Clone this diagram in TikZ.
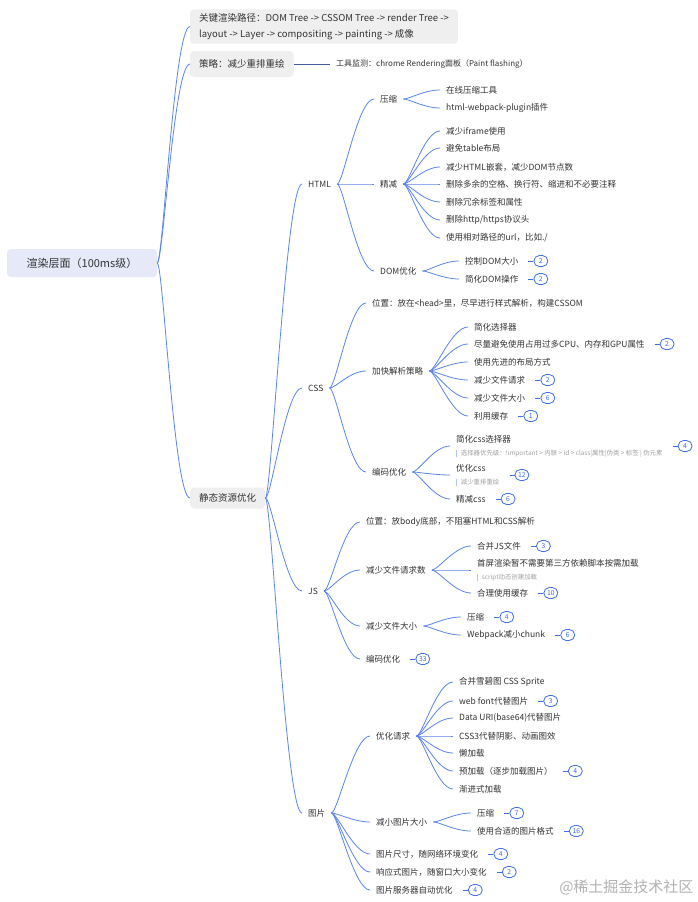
\documentclass[tikz,border=0pt]{standalone}
\usepackage{fontspec}
\setmainfont{Noto Sans CJK SC}
\usepackage{tikz}
\usetikzlibrary{positioning,calc}
\definecolor{linkblue}{HTML}{5B86E5}
\definecolor{badgeblue}{HTML}{3F6FE0}
\definecolor{txtgray}{HTML}{333333}
\definecolor{notegray}{HTML}{A0A0A0}
\definecolor{rootfill}{HTML}{E5E9F8}
\definecolor{boxfill}{HTML}{EFEFEF}
\newcommand\notefont{\fontsize{6.4}{8}\selectfont\color{notegray}}
\newcommand\notebar{\textcolor{linkblue!45}{\rule[-1.5pt]{0.7pt}{7pt}}\hspace{4pt}}
\tikzset{
  branch/.style  = {draw=linkblue, line width=0.8pt,
                    to path={.. controls ($(\tikztostart)+(6,0)$) and
                    ($(\tikztotarget)+(-16,0)$) .. (\tikztotarget)}},
  plainlink/.style = {draw=linkblue!70!black, line width=0.8pt},
  rootbox/.style = {fill=rootfill, rounded corners=4pt, minimum width=150pt,
                    minimum height=28pt, font=\fontsize{11}{13}\selectfont,
                    text=txtgray},
  topbox/.style  = {fill=boxfill, rounded corners=4pt, inner xsep=9pt,
                    inner ysep=4pt, font=\fontsize{9.5}{16}\selectfont,
                    text=txtgray, anchor=west, align=left},
  item/.style    = {font=\fontsize{8.5}{10}\selectfont, text=txtgray,
                    inner xsep=6pt, inner ysep=1pt, anchor=west},
  nitem/.style   = {item, align=left, font=\fontsize{8.5}{13}\selectfont},
  badge/.style   = {draw=badgeblue, line width=0.8pt, rounded corners=5.5pt,
                    text=badgeblue, font=\fontsize{6.8}{7}\selectfont,
                    minimum width=14pt, minimum height=11pt, inner sep=1pt},
  tick/.style    = {draw=badgeblue, line width=0.8pt, shorten <=4pt},
  wmark/.style   = {font=\fontsize{15}{16}\selectfont, text=black!30, anchor=east},
}
\begin{document}
\begin{tikzpicture}[x=1pt, y=-1pt]
  \path[use as bounding box, fill=white] (0,0) rectangle (698,902);
  % root and first level
  \node[rootbox] (root) at (82,263) {渲染层面（100ms级）};
  \node[topbox] (key) at (190,26.5) {关键渲染路径：DOM Tree -> CSSOM Tree -> render Tree ->\\layout -> Layer -> compositing -> painting -> 成像};
  \node[topbox, minimum height=26pt] (strat) at (190,64) {策略：减少重排重绘};
  \node[item, font=\fontsize{8}{10}\selectfont] (tool) at (330,64) {工具监测：chrome Rendering面板（Paint flashing）};
  \node[topbox, minimum height=21pt] (static) at (190,498) {静态资源优化};
  \draw[branch] (root.east) to (key.west);
  \draw[branch] (root.east) to (strat.west);
  \draw[branch] (root.east) to (static.west);
  \draw[plainlink] (strat.east) -- (tool.west);

  % HTML
  \node[item] (html) at (302,184) {HTML};
  \node[item] (hzip) at (374,99) {压缩};
  \node[item] (hcut) at (374,184) {精减};
  \node[item] (hdom) at (374,271) {DOM优化};
  \node[item] (hz1) at (440,90) {在线压缩工具};
  \node[item] (hz2) at (440,108) {html-webpack-plugin插件};
  \node[item] (hc1) at (440,131) {减少iframe使用};
  \node[item] (hc2) at (440,148) {避免table布局};
  \node[item] (hc3) at (440,167) {减少HTML嵌套，减少DOM节点数};
  \node[item] (hc4) at (440,184) {删除多余的空格、换行符、缩进和不必要注释};
  \node[item] (hc5) at (440,202) {删除冗余标签和属性};
  \node[item] (hc6) at (440,220) {删除http/https协议头};
  \node[item] (hc7) at (440,238) {使用相对路径的url，比如./};
  \node[item] (hd1) at (459,261) {控制DOM大小};
  \node[item] (hd2) at (459,279) {简化DOM操作};
  \node[badge, right=9pt of hd1] (hd1n) {2};
  \node[badge, right=9pt of hd2] (hd2n) {2};
  \draw[branch] (static.east) to (html.west);
  \foreach \c in {hzip,hcut,hdom} \draw[branch] (html.east) to (\c.west);
  \foreach \c in {hz1,hz2} \draw[branch] (hzip.east) to (\c.west);
  \foreach \c in {hc1,hc2,hc3,hc4,hc5,hc6,hc7} \draw[branch] (hcut.east) to (\c.west);
  \foreach \c in {hd1,hd2} \draw[branch] (hdom.east) to (\c.west);
  \draw[tick] (hd1.east) -- (hd1n.west);
  \draw[tick] (hd2.east) -- (hd2n.west);

  % CSS
  \node[item] (css) at (302,388) {CSS};
  \node[item] (cpos) at (366,303) {位置：放在<head>里，尽早进行样式解析，构建CSSOM};
  \node[item] (cfast) at (366,371) {加快解析策略};
  \node[item] (ccode) at (366,472) {编码优化};
  \node[item] (cf1) at (468,327) {简化选择器};
  \node[item] (cf2) at (468,344) {尽量避免使用占用过多CPU、内存和GPU属性};
  \node[item] (cf3) at (468,362) {使用先进的布局方式};
  \node[item] (cf4) at (468,380) {减少文件请求};
  \node[item] (cf5) at (468,398) {减少文件大小};
  \node[item] (cf6) at (468,416) {利用缓存};
  \node[nitem] (cc1) at (450,446) {简化css选择器\\{\notefont\notebar 选择器优先级：!important > 内联 > id > class|属性|伪类 > 标签 | 伪元素}};
  \node[nitem] (cc2) at (450,475) {优化css\\{\notefont\notebar 减少重排重绘}};
  \node[item] (cc3) at (450,499) {精减css};
  \node[badge, right=9pt of cf2] (cf2n) {2};
  \node[badge, right=9pt of cf4] (cf4n) {2};
  \node[badge, right=9pt of cf5] (cf5n) {6};
  \node[badge, right=9pt of cf6] (cf6n) {1};
  \node[badge, right=9pt of cc1] (cc1n) {4};
  \node[badge, right=9pt of cc2] (cc2n) {12};
  \node[badge, right=9pt of cc3] (cc3n) {6};
  \draw[branch] (static.east) to (css.west);
  \foreach \c in {cpos,cfast,ccode} \draw[branch] (css.east) to (\c.west);
  \foreach \c in {cf1,cf2,cf3,cf4,cf5,cf6} \draw[branch] (cfast.east) to (\c.west);
  \foreach \c in {cc1,cc2,cc3} \draw[branch] (ccode.east) to (\c.west);
  \foreach \c in {cf2,cf4,cf5,cf6,cc1,cc2,cc3} \draw[tick] (\c.east) -- (\c n.west);

  % JS
  \node[item] (js) at (302,591) {JS};
  \node[item] (jpos) at (360,522) {位置：放body底部，不阻塞HTML和CSS解析};
  \node[item] (jreq) at (360,570) {减少文件请求数};
  \node[item] (jsize) at (360,626) {减少文件大小};
  \node[item] (jcode) at (360,659) {编码优化};
  \node[item] (jr1) at (471,546) {合并JS文件};
  \node[nitem] (jr2) at (471,570) {首屏渲染暂不需要第三方依赖脚本按需加载\\{\notefont\notebar script动态创建加载}};
  \node[item] (jr3) at (471,593) {合理使用缓存};
  \node[item] (js1) at (461,617) {压缩};
  \node[item] (js2) at (461,635) {Webpack减小chunk};
  \node[badge, right=9pt of jcode] (jcoden) {33};
  \node[badge, right=9pt of jr1] (jr1n) {3};
  \node[badge, right=9pt of jr3] (jr3n) {10};
  \node[badge, right=9pt of js1] (js1n) {4};
  \node[badge, right=9pt of js2] (js2n) {6};
  \draw[branch] (static.east) to (js.west);
  \foreach \c in {jpos,jreq,jsize,jcode} \draw[branch] (js.east) to (\c.west);
  \foreach \c in {jr1,jr2,jr3} \draw[branch] (jreq.east) to (\c.west);
  \foreach \c in {js1,js2} \draw[branch] (jsize.east) to (\c.west);
  \foreach \c in {jcode,jr1,jr3,js1,js2} \draw[tick] (\c.east) -- (\c n.west);

  % images
  \node[item] (img) at (302,813) {图片};
  \node[item] (ireq) at (370,736) {优化请求};
  \node[item] (isize) at (370,822) {减小图片大小};
  \node[item] (i3) at (370,854) {图片尺寸，随网络环境变化};
  \node[item] (i4) at (370,872) {响应式图片，随窗口大小变化};
  \node[item] (i5) at (370,890) {图片服务器自动优化};
  \node[item] (ir1) at (453,682) {合并雪碧图 CSS Sprite};
  \node[item] (ir2) at (453,701) {web font代替图片};
  \node[item] (ir3) at (453,718) {Data URI(base64)代替图片};
  \node[item] (ir4) at (453,736) {CSS3代替阴影、动画图效};
  \node[item] (ir5) at (453,753) {懒加载};
  \node[item] (ir6) at (453,771) {预加载（逐步加载图片）};
  \node[item] (ir7) at (453,789) {渐进式加载};
  \node[item] (is1) at (471,813) {压缩};
  \node[item] (is2) at (471,831) {使用合适的图片格式};
  \node[badge, right=9pt of i3] (i3n) {4};
  \node[badge, right=9pt of i4] (i4n) {2};
  \node[badge, right=9pt of i5] (i5n) {4};
  \node[badge, right=9pt of ir2] (ir2n) {3};
  \node[badge, right=9pt of ir6] (ir6n) {4};
  \node[badge, right=9pt of is1] (is1n) {7};
  \node[badge, right=9pt of is2] (is2n) {16};
  \draw[branch] (static.east) to (img.west);
  \foreach \c in {ireq,isize,i3,i4,i5} \draw[branch] (img.east) to (\c.west);
  \foreach \c in {ir1,ir2,ir3,ir4,ir5,ir6,ir7} \draw[branch] (ireq.east) to (\c.west);
  \foreach \c in {is1,is2} \draw[branch] (isize.east) to (\c.west);
  \foreach \c in {i3,i4,i5,ir2,ir6,is1,is2} \draw[tick] (\c.east) -- (\c n.west);

  \node[wmark] (wm) at (697,887) {@稀土掘金技术社区};
\end{tikzpicture}
\end{document}
